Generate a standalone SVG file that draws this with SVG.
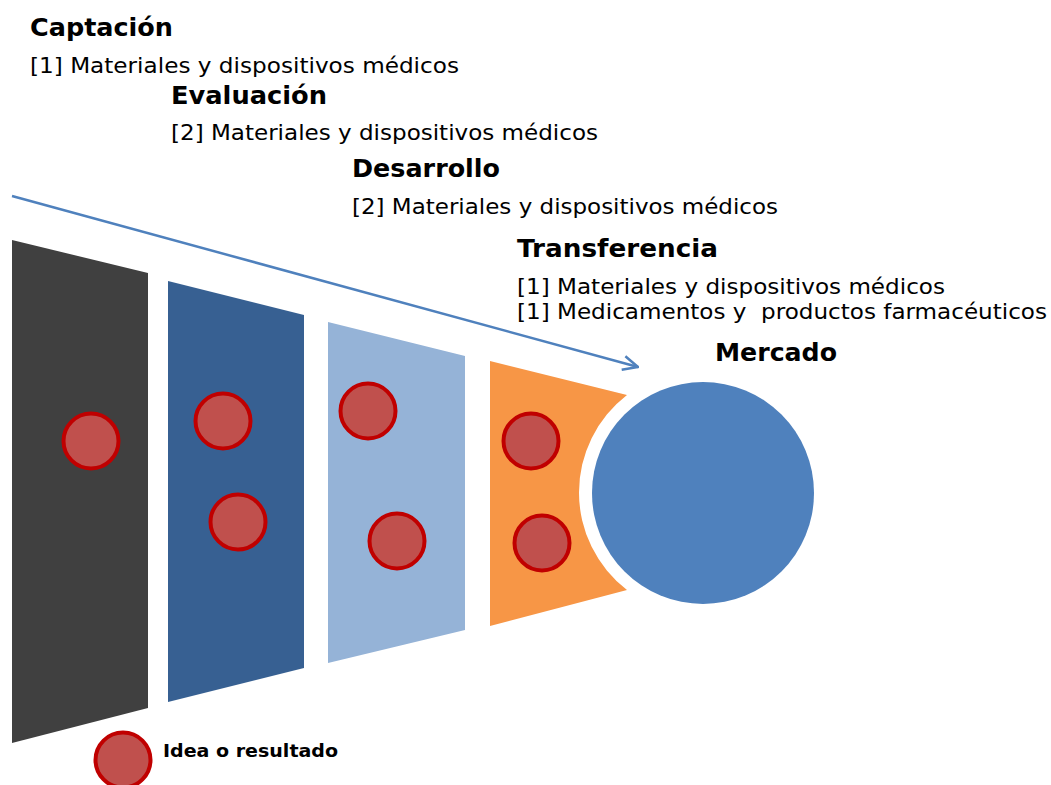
<svg xmlns="http://www.w3.org/2000/svg" width="1051" height="785" viewBox="0 0 1051 785">
  <defs>
    <style>
      .h { font-family: "DejaVu Sans", Verdana, sans-serif; font-weight: bold; font-size: 24px; fill: #000; }
      .t { font-family: "DejaVu Sans", Verdana, sans-serif; font-size: 22px; fill: #000; white-space: pre; }
      .lg { font-family: "DejaVu Sans", Verdana, sans-serif; font-weight: bold; font-size: 17px; fill: #000; }
      .idea { fill: #C0504D; stroke: #C00000; stroke-width: 4; }
      .conn { fill: none; stroke: #4F81BD; stroke-width: 2.5; }
    </style>
    <marker id="arrow" viewBox="0 0 18 18" refX="17" refY="9" markerWidth="18" markerHeight="18" markerUnits="userSpaceOnUse" orient="auto">
      <path d="M2,2 L17,9 L2,16" fill="none" stroke="#4F81BD" stroke-width="2.5"/>
    </marker>
  </defs>
  <rect width="1051" height="785" fill="#ffffff"/>

  <g id="labels">
    <text class="h" x="30" y="36" textLength="143" lengthAdjust="spacingAndGlyphs">Captación</text>
    <text class="t" x="30" y="73" textLength="429" lengthAdjust="spacingAndGlyphs">[1] Materiales y dispositivos médicos</text>
    <text class="h" x="171" y="104" textLength="156" lengthAdjust="spacingAndGlyphs">Evaluación</text>
    <text class="t" x="171" y="140" textLength="427" lengthAdjust="spacingAndGlyphs">[2] Materiales y dispositivos médicos</text>
    <text class="h" x="352" y="177" textLength="148" lengthAdjust="spacingAndGlyphs">Desarrollo</text>
    <text class="t" x="352" y="214" textLength="426" lengthAdjust="spacingAndGlyphs">[2] Materiales y dispositivos médicos</text>
    <text class="h" x="517" y="257" textLength="201" lengthAdjust="spacingAndGlyphs">Transferencia</text>
    <text class="t" x="517" y="294" textLength="428" lengthAdjust="spacingAndGlyphs">[1] Materiales y dispositivos médicos</text>
    <text class="t" x="517" y="319" textLength="530" lengthAdjust="spacingAndGlyphs" xml:space="preserve">[1] Medicamentos y  productos farmacéuticos</text>
  </g>

  <g id="connectors">
    <line class="conn" x1="12" y1="196" x2="638" y2="367" marker-end="url(#arrow)"/>
  </g>

  <g id="stage-captacion">
    <polygon points="12,240 148,273 148,708 12,743" fill="#404040"/>
    <circle class="idea" cx="91" cy="441" r="27.5"/>
  </g>
  <g id="stage-evaluacion">
    <polygon points="168,281 304,315 304,668 168,702" fill="#376092"/>
    <circle class="idea" cx="223" cy="421" r="27.5"/>
    <circle class="idea" cx="238" cy="522" r="27.5"/>
  </g>
  <g id="stage-desarrollo">
    <polygon points="328,322 465,356 465,630 328,663" fill="#95B3D7"/>
    <circle class="idea" cx="368" cy="411" r="27.5"/>
    <circle class="idea" cx="397" cy="541" r="27.5"/>
  </g>
  <g id="stage-transferencia">
    <path d="M490,361 L627,395 A123,123 0 0 0 627,590 L490,626 Z" fill="#F79646"/>
    <circle class="idea" cx="531" cy="441" r="27.5"/>
    <circle class="idea" cx="542" cy="543" r="27.5"/>
  </g>
  <g id="mercado">
    <circle cx="703" cy="493" r="111" fill="#4F81BD"/>
    <text class="h" x="715" y="361" textLength="122" lengthAdjust="spacingAndGlyphs">Mercado</text>
  </g>
  <g id="legend">
    <circle class="idea" cx="123" cy="760" r="27.5"/>
    <text class="lg" x="163" y="757" textLength="175" lengthAdjust="spacingAndGlyphs">Idea o resultado</text>
  </g>
</svg>
